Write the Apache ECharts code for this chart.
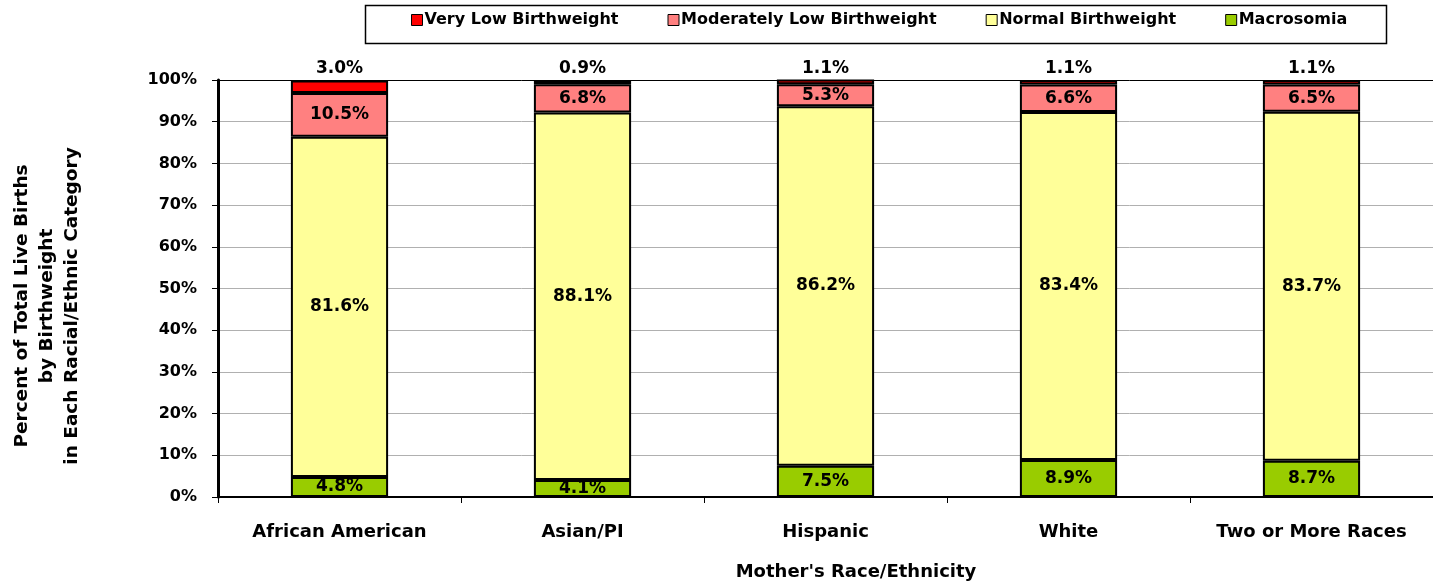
<!DOCTYPE html>
<html>
<head>
<meta charset="utf-8">
<script src="https://cdn.jsdelivr.net/npm/echarts@6/dist/echarts.min.js"></script>
<style>
  html, body { margin: 0; padding: 0; background: #fff; }
  #chart { width: 1433px; height: 587px; }
</style>
</head>
<body>
<div id="chart"></div>
<script>
// data
var categories = ['African American', 'Asian/PI', 'Hispanic', 'White', 'Two or More Races']
var veryLow = [3.0, 0.9, 1.1, 1.1, 1.1]
var moderatelyLow = [10.5, 6.8, 5.3, 6.6, 6.5]
var normal = [81.6, 88.1, 86.2, 83.4, 83.7]
var macrosomia = [4.8, 4.1, 7.5, 8.9, 8.7]
var yTicks = [0, 10, 20, 30, 40, 50, 60, 70, 80, 90, 100]

var font = 'DejaVu Sans, Arial, sans-serif'
var pct = function (p) { return p.value.toFixed(1) + '%' }

function makeSeries(name, data, color, labelPos) {
  return {
    name: name,
    type: 'bar',
    stack: 'total',
    barWidth: '40%',
    data: data,
    itemStyle: { color: color, borderColor: '#000', borderWidth: 2 },
    label: {
      show: true,
      position: labelPos,
      distance: 3,
      formatter: pct,
      color: '#000',
      fontFamily: font,
      fontWeight: 'bold',
      fontSize: 17
    }
  }
}

// 网格线：100% 那条画成黑色
var gridColors = yTicks.map(function (t) { return t === 100 ? '#000' : '#b0b0b0' })

var options = {
  animation: false,
  grid: { left: 218, right: 0, top: 80, bottom: 90 },
  legend: {
    left: 411,
    top: 12,
    padding: 0,
    itemGap: 49,
    itemWidth: 11,
    itemHeight: 11,
    icon: 'rect',
    itemStyle: { borderColor: '#000', borderWidth: 1 },
    textStyle: { color: '#000', fontFamily: font, fontWeight: 'bold', fontSize: 16, padding: [0, 0, 0, -3] },
    data: ['Very Low Birthweight', 'Moderately Low Birthweight', 'Normal Birthweight', 'Macrosomia']
  },
  xAxis: {
    type: 'category',
    data: categories,
    axisLine: { lineStyle: { color: '#000', width: 2 } },
    axisTick: { show: true, interval: 0, length: 6, lineStyle: { color: '#000' } },
    axisLabel: { interval: 0, color: '#000', fontFamily: font, fontWeight: 'bold', fontSize: 18, margin: 26 }
  },
  yAxis: {
    type: 'value',
    min: 0,
    max: 100,
    interval: 10,
    axisLine: { show: true, lineStyle: { color: '#000', width: 3 } },
    axisTick: { show: true, length: 6, lineStyle: { color: '#000', width: 1 } },
    axisLabel: {
      color: '#000', fontFamily: font, fontWeight: 'bold', fontSize: 16, margin: 21,
      formatter: function (v) { return v + '%' }
    },
    splitLine: { show: true, lineStyle: { color: gridColors, width: 1 } }
  },
  graphic: [
    {
      type: 'rect',
      left: 363,
      top: 3,
      shape: { width: 1021, height: 38 },
      style: { fill: 'none', stroke: '#000', lineWidth: 1.5 },
      z: -1
    },
    {
      type: 'text',
      x: 47,
      y: 306,
      rotation: Math.PI / 2,
      style: {
        text: 'Percent of Total Live Births\nby Birthweight\nin Each Racial/Ethnic Category',
        fill: '#000',
        font: 'bold 18.5px ' + font,
        align: 'center',
        verticalAlign: 'middle',
        lineHeight: 25
      }
    },
    {
      type: 'text',
      x: 856,
      y: 572,
      style: {
        text: "Mother's Race/Ethnicity",
        fill: '#000',
        font: 'bold 18px ' + font,
        align: 'center',
        verticalAlign: 'middle'
      }
    }
  ],
  series: [
    makeSeries('Macrosomia', macrosomia, '#99cc00', 'inside'),
    makeSeries('Normal Birthweight', normal, '#ffff99', 'inside'),
    makeSeries('Moderately Low Birthweight', moderatelyLow, '#ff8080', 'inside'),
    makeSeries('Very Low Birthweight', veryLow, '#ff0000', 'top')
  ]
}

var myChart = echarts.init(document.getElementById('chart'))
myChart.setOption(options)
</script>
</body>
</html>
